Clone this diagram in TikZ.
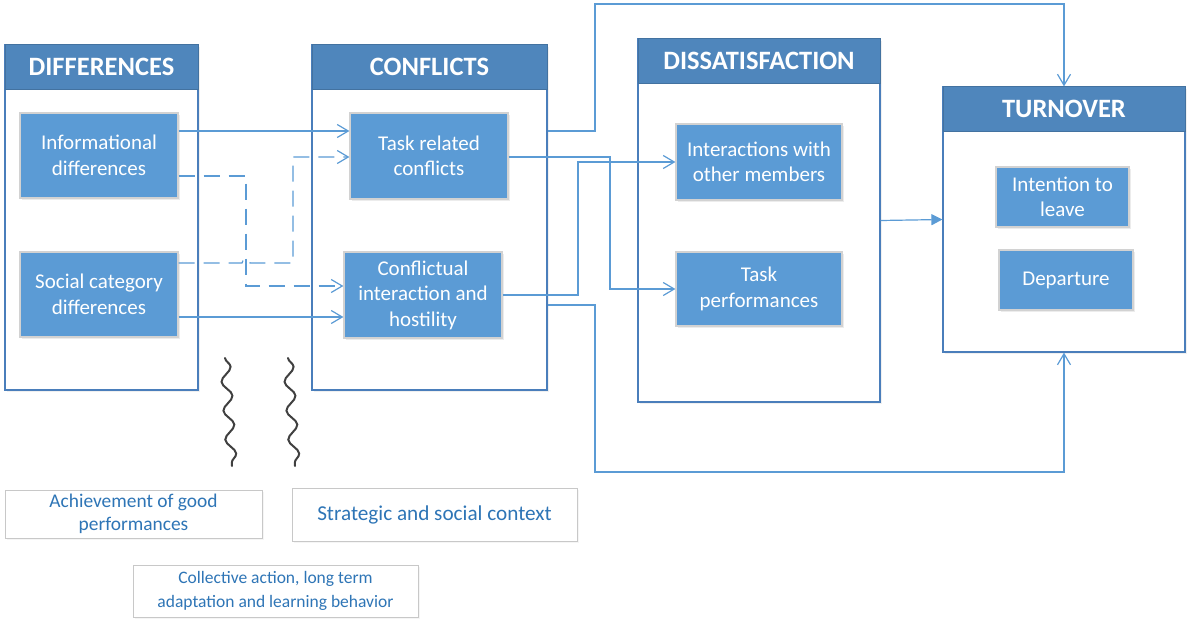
\documentclass[tikz,border=0pt]{standalone}
\usepackage{fontspec}
\setmainfont{Carlito}
\usetikzlibrary{arrows.meta,shadows,decorations.pathmorphing}
\definecolor{hdr}{HTML}{4F86BC}
\definecolor{inn}{HTML}{5B9BD5}
\definecolor{cbord}{HTML}{4A7EBB}
\definecolor{lin}{HTML}{5B9BD5}
\definecolor{btxt}{HTML}{2E75B6}
\definecolor{bbord}{HTML}{C8C8C8}
\tikzset{
  container/.style={draw=cbord, line width=1.2pt, fill=white, inner sep=0pt,
     drop shadow={opacity=0.12, shadow xshift=2pt, shadow yshift=-2pt}},
  header/.style={draw=hdr!85!black, line width=1pt, fill=hdr, inner sep=0pt, anchor=north,
     text=white, font=\fontsize{26.5}{30}\selectfont\bfseries},
  innerbox/.style={draw=gray!35, line width=1.2pt, fill=inn, inner sep=0pt, align=center,
     text=white, font=\fontsize{21}{25.5}\selectfont,
     drop shadow={opacity=0.15, shadow xshift=2pt, shadow yshift=-2pt}},
  notebox/.style={draw=bbord, line width=1pt, fill=white, inner sep=0pt, align=center,
     text=btxt, drop shadow={opacity=0.08, shadow xshift=2pt, shadow yshift=-2pt}},
  arr/.style={draw=lin, line width=1.2pt, -{Straight Barb[length=11pt,width=13pt,line width=1.2pt]}},
  farr/.style={draw=lin, line width=1.2pt, -{Triangle[length=11pt,width=11pt]}},
  dashline/.style={dash pattern=on 16pt off 9pt},
  squig/.style={draw=black!75, line width=2pt, line cap=round,
     decorate, decoration={snake, segment length=29pt, amplitude=5pt}}
}
\begin{document}
\begin{tikzpicture}[x=1pt,y=-1pt]
\useasboundingbox (0,0) rectangle (1188,621);
% containers
\node[container, minimum width=193pt, minimum height=345pt] (diff) at (101.5,217.5) {};
\node[header, minimum width=193pt, minimum height=45pt] (diffH) at (diff.north) {DIFFERENCES};
\node[container, minimum width=235pt, minimum height=345pt] (conf) at (429.5,217.5) {};
\node[header, minimum width=235pt, minimum height=45pt] (confH) at (conf.north) {CONFLICTS};
\node[container, minimum width=242pt, minimum height=363pt] (dis) at (759,220.5) {};
\node[header, minimum width=242pt, minimum height=45pt] (disH) at (dis.north) {DISSATISFACTION};
\node[container, minimum width=242pt, minimum height=265pt] (turn) at (1064,219.5) {};
\node[header, minimum width=242pt, minimum height=45pt] (turnH) at (turn.north) {TURNOVER};
% inner boxes
\node[innerbox, minimum width=158pt, minimum height=85pt] (info) at (99,155.5) {Informational\\differences};
\node[innerbox, minimum width=158pt, minimum height=85pt] (social) at (99,294.5) {Social category\\differences};
\node[innerbox, minimum width=158pt, minimum height=86pt] (tr) at (429,156) {Task related\\conflicts};
\node[innerbox, minimum width=158pt, minimum height=86pt] (ci) at (423,295) {Conflictual\\interaction and\\hostility};
\node[innerbox, minimum width=166pt, minimum height=76pt] (im) at (759,162) {Interactions with\\other members};
\node[innerbox, minimum width=166pt, minimum height=74pt] (tp) at (759,289) {Task\\performances};
\node[innerbox, minimum width=133pt, minimum height=60pt] (il) at (1062.5,197) {Intention to\\leave};
\node[innerbox, minimum width=134pt, minimum height=60pt] (dep) at (1066,280) {Departure};
% notes
\node[notebox, minimum width=257pt, minimum height=48pt, font=\fontsize{19.4}{23}\selectfont] (ach) at (133.5,514) {Achievement of good\\performances};
\node[notebox, minimum width=285pt, minimum height=53pt, font=\fontsize{21.2}{25}\selectfont] (strat) at (434.5,514.5) {Strategic and social context};
\node[notebox, minimum width=285pt, minimum height=52pt, font=\fontsize{17.5}{24}\selectfont] (coll) at (275.5,591) {Collective action, long term\\adaptation and learning behavior};
% connectors
\draw[arr] ([yshift=24.5pt]info.east) -- ([yshift=25pt]tr.west);
\draw[arr, dashline] ([yshift=-20.5pt]info.east) -| (246,286) -- ([yshift=9pt]ci.west);
\draw[arr, dashline] ([yshift=31.5pt]social.east) -- (242,263) arc[start angle=180, end angle=0, radius=4pt] -- (293,263) -- (293,157) -- ([yshift=-1pt]tr.west);
\draw[arr] ([yshift=-22.5pt]social.east) -- ([yshift=-22pt]ci.west);
\draw[arr] ([yshift=-1pt]tr.east) -- (610,157) -- (610,289) -- (tp.west);
\draw[arr] (ci.east) -- (578,295) -- (578,162) -- (im.west);
\draw[arr] ([yshift=86.5pt]conf.east) -- (595,131) |- (1064,4) -- (turn.north);
\draw[arr] ([yshift=-87.5pt]conf.east) -- (595,305) |- (1064,472) -- (turn.south);
\draw[farr] (dis.east) -- (turn.west);
% squiggles
\coordinate (s1a) at (225,358); \coordinate (s1b) at (232,466);
\coordinate (s2a) at (288,358); \coordinate (s2b) at (295,466);
\draw[squig] (s1a) -- (s1b);
\draw[squig] (s2a) -- (s2b);
\end{tikzpicture}
\end{document}
